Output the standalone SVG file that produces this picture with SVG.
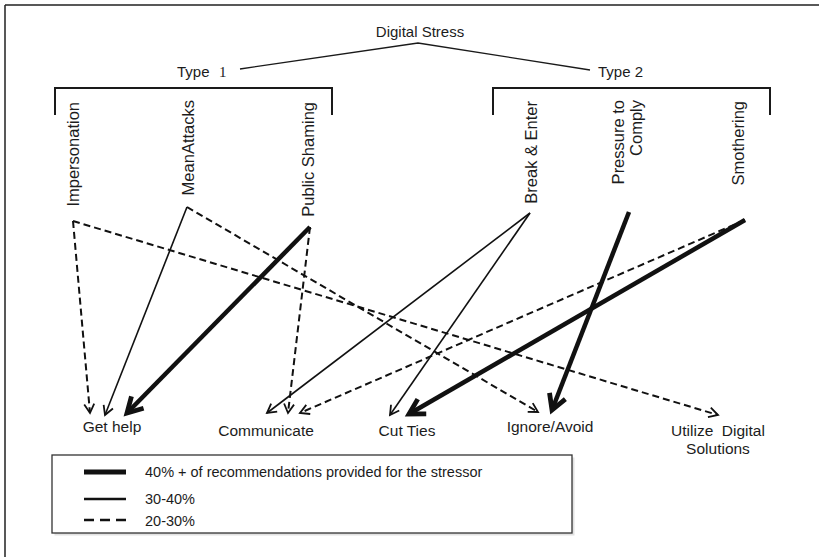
<svg xmlns="http://www.w3.org/2000/svg" width="819" height="557" viewBox="0 0 819 557">
<style>
text{font-family:"Liberation Sans",Arial,sans-serif;fill:#1c1c1c}
.top{font-size:15px}
.vl{font-size:16.5px;text-anchor:end}
.bl{font-size:15.5px;text-anchor:middle}
.lg{font-size:14.5px}
.c{fill:none;stroke:#111;stroke-linecap:butt}
.thin{stroke-width:1.6;marker-end:url(#aThin)}
.dash{stroke-width:2;stroke-dasharray:7 4;marker-end:url(#aThin)}
.thick{stroke-width:4.5;marker-end:url(#aThick)}
.br{fill:none;stroke:#1a1a1a;stroke-width:2}
.tl{fill:none;stroke:#1a1a1a;stroke-width:1.3}
</style>
<defs>
<marker id="aThin" markerUnits="userSpaceOnUse" markerWidth="20" markerHeight="20" refX="0" refY="0" orient="auto" overflow="visible">
<path d="M-9,-5 L0,0 L-9,5" fill="none" stroke="#111" stroke-width="1.8"/>
</marker>
<marker id="aThick" markerUnits="userSpaceOnUse" markerWidth="30" markerHeight="30" refX="0" refY="0" orient="auto" overflow="visible">
<path d="M-15,-8.5 L0,0 L-15,8.5" fill="none" stroke="#111" stroke-width="4.8" stroke-linejoin="miter"/>
</marker>
</defs>
<rect width="819" height="557" fill="#fff"/>
<g id="frame">
<path d="M5,5 L819,5 M5,5 L5,557" fill="none" stroke="#222" stroke-width="1.5"/>
</g>
<g id="root">
<text class="top" x="420" y="37" text-anchor="middle">Digital Stress</text>
</g>
<g id="tree" class="tl">
<path d="M240,69 L418,43 L590,70"/>
</g>
<g id="type1">
<text class="top" x="177" y="77">Type<tspan x="219" style="font-family:'Liberation Serif',serif">1</tspan></text>
<path class="br" d="M55,115 L55,88 L332,88 L332,115"/>
</g>
<g id="type2">
<text class="top" x="598" y="77">Type 2</text>
<path class="br" d="M493,115 L493,88 L770,88 L770,115"/>
</g>
<g id="impersonation"><text class="vl" transform="translate(78.5,102) rotate(-90)">Impersonation</text></g>
<g id="meanattacks"><text class="vl" transform="translate(193.5,100) rotate(-90)">MeanAttacks</text></g>
<g id="publicshaming"><text class="vl" transform="translate(313.5,102) rotate(-90)">Public Shaming</text></g>
<g id="breakenter"><text class="vl" transform="translate(536.5,101) rotate(-90)">Break &amp; Enter</text></g>
<g id="pressure"><text class="vl" transform="translate(623.5,100) rotate(-90)">Pressure to</text><text class="vl" transform="translate(641.5,100) rotate(-90)">Comply</text></g>
<g id="smothering"><text class="vl" transform="translate(743.5,101) rotate(-90)">Smothering</text></g>
<g id="gethelp"><text class="bl" x="112" y="432">Get help</text></g>
<g id="communicate"><text class="bl" x="266" y="436">Communicate</text></g>
<g id="cutties"><text class="bl" x="407" y="436">Cut Ties</text></g>
<g id="ignoreavoid"><text class="bl" x="550" y="432">Ignore/Avoid</text></g>
<g id="utilize"><text class="bl" x="718" y="436" xml:space="preserve">Utilize  Digital</text><text class="bl" x="718" y="454">Solutions</text></g>
<g id="connectors">
<path class="c dash" d="M73,221 L90,413"/>
<path class="c dash" d="M73,221 L718,415"/>
<path class="c thin" d="M187,207 L105,415"/>
<path class="c dash" d="M187,207 L538,412"/>
<path class="c thick" d="M310,227 L127,413"/>
<path class="c dash" d="M310,227 L288,413"/>
<path class="c thin" d="M530,213 L267,413"/>
<path class="c thin" d="M530,213 L390,415"/>
<path class="c thick" d="M629,212 L552,410"/>
<path class="c thick" d="M745,220 L409,414"/>
<path class="c dash" d="M745,220 L300,413"/>
</g>
<g id="legend">
<rect x="54.5" y="457.5" width="520" height="78" fill="#e2e2e2"/>
<rect x="52" y="455" width="520" height="78" fill="#fff" stroke="#333" stroke-width="1.3"/>
<path d="M84,472 L126,472" stroke="#111" stroke-width="5"/>
<path d="M84,499 L126,499" stroke="#111" stroke-width="2.5"/>
<path d="M84,520 L126,520" stroke="#111" stroke-width="2.5" stroke-dasharray="10 6"/>
<text class="lg" x="145" y="477">40% + of recommendations provided for the stressor</text>
<text class="lg" x="145" y="504">30-40%</text>
<text class="lg" x="145" y="526">20-30%</text>
</g>
</svg>
